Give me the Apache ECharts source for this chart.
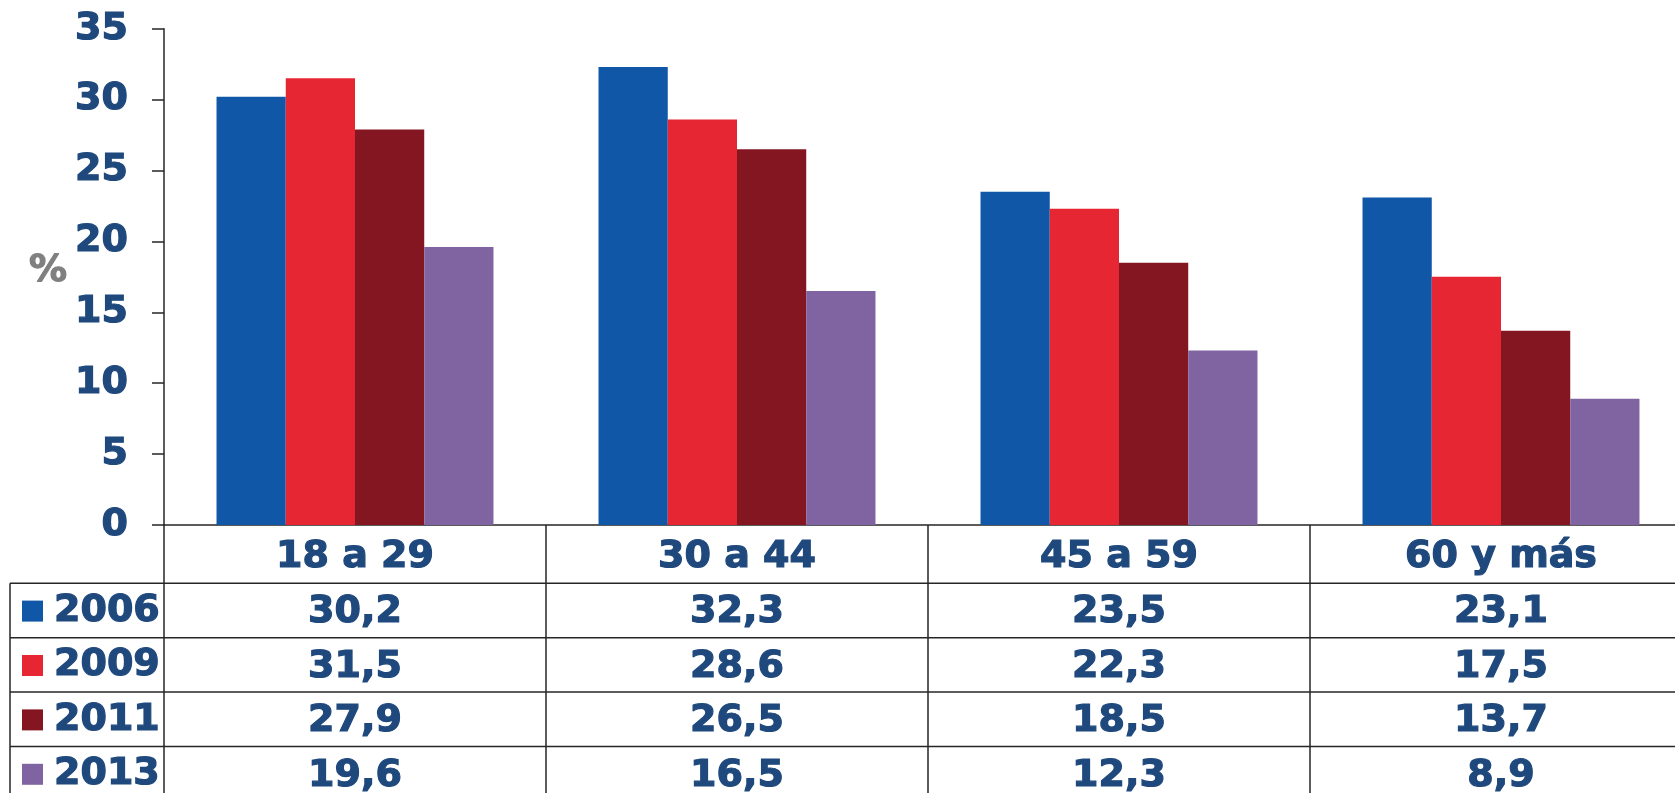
<!DOCTYPE html>
<html>
<head>
<meta charset="utf-8">
<script src="https://cdn.jsdelivr.net/npm/echarts@6/dist/echarts.min.js"></script>
<style>html,body{margin:0;padding:0;background:#fff;}#c{width:1675px;height:793px;}</style>
</head>
<body>
<div id="c"></div>
<script>
const categories = ['18 a 29', '30 a 44', '45 a 59', '60 y más'];
const years = ['2006', '2009', '2011', '2013'];
const v2006 = [30.2, 32.3, 23.5, 23.1];
const v2009 = [31.5, 28.6, 22.3, 17.5];
const v2011 = [27.9, 26.5, 18.5, 13.7];
const v2013 = [19.6, 16.5, 12.3, 8.9];
const yTicks = [0, 5, 10, 15, 20, 25, 30, 35];
const colors = ['#1057A8', '#E62733', '#841621', '#8064A2'];
const seriesValues = [v2006, v2009, v2011, v2013];

const TXT = '#1F497D';
const FONT = 'DejaVu Sans';
const LINE = '#262626';
const gridLeft = 164, gridTop = 28.7, gridH = 496.3, gridW = 1528;
const axisY = gridTop + gridH;
const headerBottom = 583.3;
const rowH = 54.4;
const fmt = v => v.toFixed(1).replace('.', ',');
const txtStyle = (c) => ({ fontSize: 38, fontWeight: 'bold', fontFamily: FONT, color: c, textBorderColor: c, textBorderWidth: 1.2 });

const xAxes = [{
  type: 'category', data: categories, gridIndex: 0, position: 'bottom',
  axisLine: { show: true, lineStyle: { color: LINE, width: 1.5 } },
  axisTick: { show: true, length: 793 - axisY, lineStyle: { color: LINE, width: 1.5 } },
  axisLabel: Object.assign({ margin: 13, lineHeight: 38 }, txtStyle(TXT))
}];
seriesValues.forEach((vals, i) => {
  const center = headerBottom + rowH * i + rowH / 2;
  xAxes.push({
    type: 'category', data: vals.map(fmt), gridIndex: 0, position: 'bottom',
    offset: center - axisY - 19 + 2,
    axisLine: { show: false }, axisTick: { show: false },
    axisLabel: Object.assign({ margin: 0, lineHeight: 38 }, txtStyle(TXT))
  });
});

const graphics = [];
for (let i = 0; i < 4; i++) {
  const y = headerBottom + rowH * i;
  graphics.push({ type: 'line', shape: { x1: 10, y1: y, x2: 1675, y2: y }, style: { stroke: LINE, lineWidth: 1.5 }, silent: true });
}
graphics.push({ type: 'line', shape: { x1: 10, y1: headerBottom, x2: 10, y2: 793 }, style: { stroke: LINE, lineWidth: 1.5 }, silent: true });

const legends = years.map((y, i) => ({
  orient: 'vertical', left: 22, top: headerBottom + rowH * i + rowH / 2 - 19, padding: 0,
  icon: 'rect', itemWidth: 21, itemHeight: 21, data: [y],
  textStyle: Object.assign({ lineHeight: 38, padding: [0, 0, 0, 6] }, txtStyle(TXT))
}));

const option = {
  animation: false,
  color: colors,
  grid: { left: gridLeft, top: gridTop, width: gridW, height: gridH, containLabel: false, outerBoundsMode: 'none' },
  legend: legends,
  xAxis: xAxes,
  yAxis: {
    type: 'value', min: 0, max: 35, interval: 5,
    name: '%', nameLocation: 'middle', nameRotate: 0, nameGap: 97,
    nameTextStyle: Object.assign({ verticalAlign: 'bottom', lineHeight: 12 }, txtStyle('#808080')),
    axisLine: { show: true, lineStyle: { color: LINE, width: 1.5 } },
    axisTick: { show: true, length: 12, lineStyle: { color: LINE, width: 1.5 } },
    splitLine: { show: false },
    axisLabel: Object.assign({ margin: 36, formatter: v => yTicks.includes(v) ? String(v) : '' }, txtStyle(TXT))
  },
  series: years.map((y, i) => ({
    name: y, type: 'bar', data: seriesValues[i], xAxisIndex: 0,
    barGap: 0, barCategoryGap: '27.5%',
    itemStyle: { color: colors[i] }
  })),
  graphic: graphics
};
echarts.init(document.getElementById('c')).setOption(option);
</script>
</body>
</html>
